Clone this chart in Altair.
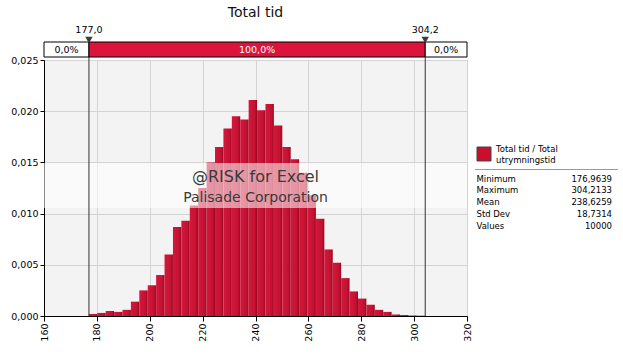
import altair as alt
import pandas as pd

# ---------------- data ----------------
chart_title = "Total tid"
x_ticks = [160, 180, 200, 220, 240, 260, 280, 300, 320]
y_ticks = [0.0, 0.005, 0.010, 0.015, 0.020, 0.025]

stat_min = 176.9639
stat_max = 304.2133
n_bins = 40
density = [
    0.0002, 0.0003, 0.0005, 0.0004, 0.0006, 0.0014, 0.0025, 0.0030, 0.0040, 0.0060,
    0.0087, 0.0093, 0.0108, 0.0125, 0.0150, 0.0165, 0.0183, 0.0195, 0.0192, 0.0211,
    0.0201, 0.0207, 0.0186, 0.0165, 0.0153, 0.0140, 0.0118, 0.0095, 0.0065, 0.0052,
    0.0037, 0.0024, 0.0017, 0.0011, 0.0006, 0.0004, 0.00015, 0.0001, 0.00005, 0.00003,
]

marker_values = [177.0, 304.2]
marker_labels = ["177,0", "304,2"]
segment_bounds = [160, 177.0, 304.2, 320]
segment_labels = ["0,0%", "100,0%", "0,0%"]

legend_name = ["Total tid / Total", "utrymningstid"]
stat_names = ["Minimum", "Maximum", "Mean", "Std Dev", "Values"]
stat_values = ["176,9639", "304,2133", "238,6259", "18,7314", "10000"]

watermark = ["@RISK for Excel", "Palisade Corporation"]

# ---------------- layout / style ----------------
W, H = 423, 256
FONT = "DejaVu Sans"
RED = "#dc143c"

bin_w = (stat_max - stat_min) / n_bins
bars_df = pd.DataFrame({
    "lo": [stat_min + i * bin_w for i in range(n_bins)],
    "hi": [stat_min + (i + 1) * bin_w for i in range(n_bins)],
    "d": density,
})

xscale = alt.Scale(domain=[160, 320], nice=False, zero=False)
yscale = alt.Scale(domain=[0, 0.025], nice=False)

xaxis = alt.Axis(values=x_ticks, labelAngle=-90, grid=True, gridColor="#d4d4d4",
                 domainColor="#000", tickColor="#000", tickSize=5, labelFont=FONT,
                 labelFontSize=9.5, labelColor="#000", title=None, labelPadding=2,
                 labelFlush=False)
yaxis = alt.Axis(values=y_ticks, grid=True, gridColor="#d4d4d4", domainColor="#000",
                 tickColor="#000", tickSize=4, labelFont=FONT, labelFontSize=9.5,
                 labelColor="#000", title=None, labelPadding=2,
                 labelExpr="replace(format(datum.value, '.3f'), '.', ',')")

bar_fill = alt.Gradient(
    gradient="linear",
    stops=[alt.GradientStop(color="#d4173d", offset=0),
           alt.GradientStop(color="#c31232", offset=0.7),
           alt.GradientStop(color="#99091f", offset=1)],
    x1=0, x2=1, y1=0, y2=0,
)

bars = alt.Chart(bars_df).mark_bar(fill=bar_fill).encode(
    x=alt.X("lo:Q", scale=xscale, axis=xaxis),
    x2="hi:Q",
    y=alt.Y("d:Q", scale=yscale, axis=yaxis),
    y2=alt.datum(0),
)

one = pd.DataFrame({"a": [0]})

band = alt.Chart(one).mark_rect(fill="white", opacity=0.55).encode(
    x=alt.value(0), x2=alt.value(W), y=alt.value(103), y2=alt.value(148))

wm1 = alt.Chart(one).mark_text(font=FONT, fontSize=16, color="#3a3a3a").encode(
    x=alt.value(W / 2), y=alt.value(117), text=alt.value(watermark[0]))
wm2 = alt.Chart(one).mark_text(font=FONT, fontSize=14, color="#3a3a3a").encode(
    x=alt.value(W / 2), y=alt.value(138), text=alt.value(watermark[1]))

markers_df = pd.DataFrame({"v": marker_values, "label": marker_labels})
vlines = alt.Chart(markers_df).mark_rule(color="#333", strokeWidth=1).encode(
    x=alt.X("v:Q", scale=xscale), y=alt.value(-3), y2=alt.value(H))

seg_df = pd.DataFrame({
    "lo": segment_bounds[:-1],
    "hi": segment_bounds[1:],
    "mid": [(a + b) / 2 for a, b in zip(segment_bounds[:-1], segment_bounds[1:])],
    "label": segment_labels,
    "fill": ["white", RED, "white"],
    "tc": ["#000", "#fff", "#000"],
})
segs = alt.Chart(seg_df).mark_rect(stroke="#000", strokeWidth=1).encode(
    x=alt.X("lo:Q", scale=xscale), x2="hi:Q",
    y=alt.value(-18), y2=alt.value(-3),
    fill=alt.Fill("fill:N", scale=None))
seg_text = alt.Chart(seg_df).mark_text(font=FONT, fontSize=9.5).encode(
    x=alt.X("mid:Q", scale=xscale), y=alt.value(-10),
    text="label:N", color=alt.Color("tc:N", scale=None))

tris = alt.Chart(markers_df).mark_point(shape="triangle-down", filled=True, size=55,
                                        color="#3c3c3c", opacity=1).encode(
    x=alt.X("v:Q", scale=xscale), y=alt.value(-20))
mlabels = alt.Chart(markers_df).mark_text(font=FONT, fontSize=9.5, color="#000").encode(
    x=alt.X("v:Q", scale=xscale), y=alt.value(-30), text="label:N")

title = alt.Chart(one).mark_text(font=FONT, fontSize=14, color="#111").encode(
    x=alt.value(W / 2), y=alt.value(-47), text=alt.value(chart_title))

# legend
leg_sq = alt.Chart(one).mark_rect(fill="#c8102e", stroke="#444", strokeWidth=1).encode(
    x=alt.value(433), x2=alt.value(447), y=alt.value(87), y2=alt.value(101))
leg_name_df = pd.DataFrame({"t": legend_name, "row": [0, 1]})
leg_name_df["yp"] = 89 + 10.5 * leg_name_df["row"]
leg_name = alt.Chart(leg_name_df).mark_text(font=FONT, fontSize=8.5, align="left",
                                             baseline="middle", color="#000").encode(
    x=alt.value(452), y=alt.Y("yp:Q", scale=None), text="t:N")
leg_line = alt.Chart(one).mark_rule(color="#9a9a9a").encode(
    x=alt.value(431), x2=alt.value(574), y=alt.value(109.5))
stats_df = pd.DataFrame({"n": stat_names, "v": stat_values, "row": range(len(stat_names))})
stats_df["yp"] = 118.5 + 11.8 * stats_df["row"]
st_names = alt.Chart(stats_df).mark_text(font=FONT, fontSize=8.5, align="left",
                                          baseline="middle", color="#000").encode(
    x=alt.value(432.5), y=alt.Y("yp:Q", scale=None), text="n:N")
st_vals = alt.Chart(stats_df).mark_text(font=FONT, fontSize=8.5, align="right",
                                         baseline="middle", color="#000").encode(
    x=alt.value(568), y=alt.Y("yp:Q", scale=None), text="v:N")

chart = alt.layer(
    bars, band, wm1, wm2, vlines, segs, seg_text, tris, mlabels, title,
    leg_sq, leg_name, leg_line, st_names, st_vals,
).properties(
    width=W, height=H,
    autosize=alt.AutoSizeParams(type="none"),
    padding={"left": 44, "top": 60, "right": 156, "bottom": 38},
    background="white",
).configure_view(fill="#f3f3f3", stroke="#cfcfcf", strokeWidth=1)

chart.save("out.html", embed_options={"renderer": "svg", "actions": False})
